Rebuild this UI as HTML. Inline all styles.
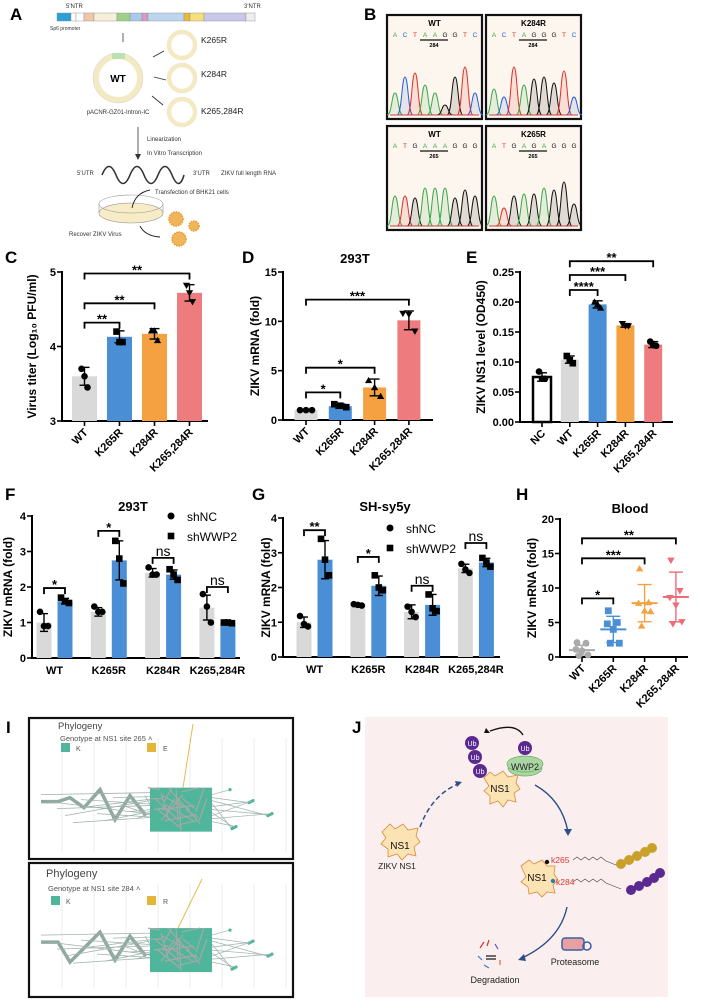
<!DOCTYPE html>
<html><head><meta charset="utf-8"><style>
html,body{margin:0;padding:0;background:#fff;}
svg{display:block;font-family:"Liberation Sans",Arial,sans-serif;}
</style></head><body>
<svg id="fig" width="702" height="1001" viewBox="0 0 702 1001">
<rect width="702" height="1001" fill="#fff"/>
<!-- Panel labels -->
<g font-weight="bold" font-size="17" fill="#000">
<text x="10" y="20">A</text>
<text x="364" y="20">B</text>
<text x="5" y="263">C</text>
<text x="242" y="263">D</text>
<text x="466" y="263">E</text>
<text x="5" y="500">F</text>
<text x="252" y="500">G</text>
<text x="516" y="500">H</text>
<text x="6" y="733">I</text>
<text x="352" y="733">J</text>
</g>
<!-- Panel A -->
<g id="panelA" font-size="6" fill="#333">
<text x="66" y="8">5'NTR</text>
<text x="244" y="8">3'NTR</text>
<g stroke="#888" stroke-width="0.4">
<rect x="57" y="13" width="14" height="8" fill="#2a9fd8"/>
<rect x="71" y="13" width="5" height="8" fill="#fff"/>
<rect x="76" y="13" width="8" height="8" fill="#fff"/>
<rect x="84" y="13" width="10" height="8" fill="#f2c7a8"/>
<rect x="94" y="13" width="23" height="8" fill="#f7efd6"/>
<rect x="117" y="13" width="13" height="8" fill="#9fd08a"/>
<rect x="130" y="13" width="12" height="8" fill="#a9c9e8"/>
<rect x="142" y="13" width="6" height="8" fill="#d79ac7"/>
<rect x="148" y="13" width="36" height="8" fill="#bcd6ee"/>
<rect x="184" y="13" width="6" height="8" fill="#e8b93c"/>
<rect x="190" y="13" width="14" height="8" fill="#f3e07a"/>
<rect x="204" y="13" width="42" height="8" fill="#c9c8ea"/>
<rect x="246" y="13" width="9" height="8" fill="#eee"/>
</g>
<text x="50" y="30" font-size="5">Sp6 promoter</text>
<line x1="123" y1="33" x2="123" y2="42" stroke="#333" stroke-width="0.8"/>
<circle cx="118" cy="78" r="22" fill="none" stroke="#f3e9c2" stroke-width="6"/>
<circle cx="118" cy="78" r="25" fill="none" stroke="#ccc" stroke-width="0.4"/>
<rect x="112" y="53" width="13" height="6" fill="#bde0b0"/>
<text x="118" y="82" font-size="10" font-weight="bold" text-anchor="middle" fill="#000">WT</text>
<text x="118" y="114" font-size="6" text-anchor="middle">pACNR-GZ01-Intron-IC</text>
<g stroke="#333" stroke-width="0.9"><line x1="153" y1="57" x2="164" y2="51"/><line x1="154" y1="77" x2="166" y2="80"/><line x1="152" y1="96" x2="163" y2="105"/></g>
<g fill="none" stroke="#f3e9c2" stroke-width="4.5">
<circle cx="182" cy="45" r="13"/><circle cx="182" cy="78" r="13"/><circle cx="182" cy="112" r="13"/></g>
<g font-size="8.5" fill="#222"><text x="201" y="43">K265R</text><text x="201" y="77">K284R</text><text x="201" y="114">K265,284R</text></g>
<line x1="138" y1="127" x2="138" y2="156" stroke="#333" stroke-width="0.8"/>
<path d="M135,154 L138,160 L141,154 Z" fill="#333"/>
<text x="147" y="141">Linearization</text>
<text x="147" y="155">In Vitro Transcription</text>
<path d="M102,175 Q109,158 116,175 T130,175 T144,175 T158,175 T172,175 T184,175" fill="none" stroke="#333" stroke-width="1.6"/>
<text x="77" y="175">5'UTR</text><text x="193" y="175">3'UTR</text><text x="221" y="175">ZIKV full length RNA</text>
<text x="155" y="194">Transfection of BHK21 cells</text>
<ellipse cx="131" cy="213" rx="32" ry="10" fill="#f7ecc6" stroke="#999" stroke-width="0.6"/>
<path d="M99,204 L99,213 M163,204 L163,213" stroke="#999" stroke-width="0.6"/>
<ellipse cx="131" cy="204" rx="32" ry="9" fill="none" stroke="#999" stroke-width="0.6"/>
<path d="M150,190 Q135,193 132,208" fill="none" stroke="#222" stroke-width="0.9"/>
<path d="M140,226 Q145,236 160,237" fill="none" stroke="#222" stroke-width="0.9"/>
<text x="69" y="236">Recover ZIKV Virus</text>
<g fill="#f0b55a" stroke="#e59b2c" stroke-dasharray="1.5,1" stroke-width="1.5">
<circle cx="176" cy="219" r="7"/><circle cx="194" cy="226" r="5"/><circle cx="179" cy="239" r="7"/></g>
</g>
<!-- Panel B -->
<g id="panelB"></g>
<!-- Charts -->
<g id="charts"></g>
<!-- Panel I -->
<g id="panelI"></g>
<!-- Panel J -->
<g id="panelJ">
<rect x="365" y="717" width="303" height="280" fill="#fbeeee"/>
<path d="M523,735 Q515,722 490,731" fill="none" stroke="#111" stroke-width="1.3"/>
<path d="M486,728 L484,733 L490,733 Z" fill="#111"/>
<path d="M508,768 a17,8 0 0 0 34,0 Z" fill="#a9d6a3" stroke="#6aaa66" stroke-width="0.7"/>
<ellipse cx="525" cy="764" rx="18" ry="8" fill="#a9d6a3" stroke="#6aaa66" stroke-width="0.7"/>
<text x="525" y="770" font-size="9" text-anchor="middle" fill="#222">WWP2</text>
<g fill="#5b2a90">
<circle cx="472" cy="743" r="7"/><circle cx="475" cy="757" r="7"/><circle cx="480" cy="771" r="7"/><circle cx="525" cy="748" r="7"/></g>
<g fill="#fff" font-size="7" text-anchor="middle"><text x="472" y="746">Ub</text><text x="475" y="760">Ub</text><text x="480" y="774">Ub</text><text x="525" y="751">Ub</text></g>
<g fill="#fbe3b3" stroke="#d98b3a" stroke-width="0.8">
<path d="M484,778 l6,-6 l5,4 l8,-5 l5,6 l10,-2 l-2,8 l4,6 l-6,4 l2,9 l-8,-2 l-5,7 l-5,-6 l-8,3 l0,-8 l-6,-5 l5,-5 Z"/>
<path d="M382,832 l8,-8 l5,5 l8,-5 l5,6 l10,-2 l-2,8 l4,6 l-6,5 l2,9 l-8,-2 l-6,6 l-5,-6 l-9,3 l0,-8 l-7,-5 l5,-6 Z"/>
<path d="M521,866 l8,-6 l5,4 l8,-4 l5,6 l8,0 l-1,8 l4,6 l-5,5 l2,8 l-8,-1 l-5,5 l-5,-5 l-8,2 l-1,-7 l-7,-5 l5,-5 Z"/>
</g>
<g font-size="10" fill="#111" text-anchor="middle"><text x="500" y="792">NS1</text><text x="400" y="849">NS1</text><text x="537" y="881">NS1</text></g>
<text x="397" y="869" font-size="8.5" text-anchor="middle" fill="#222">ZIKV NS1</text>
<path d="M420,827 Q432,795 458,784" fill="none" stroke="#2a4f8a" stroke-width="1.5" stroke-dasharray="5,3"/>
<path d="M455,781 L462,782 L457,787 Z" fill="#2a4f8a"/>
<path d="M535,785 Q562,800 568,832" fill="none" stroke="#2a4f8a" stroke-width="1.4"/>
<path d="M564,829 L568,836 L572,829 Z" fill="#2a4f8a"/>
<circle cx="547" cy="862" r="2.2" fill="#111"/><circle cx="553" cy="881" r="2.2" fill="#2b7bb5"/>
<text x="551" y="863" font-size="8.5" fill="#e0342b">k265</text>
<text x="556" y="885" font-size="8.5" fill="#e0342b">k284</text>
<path d="M573,860 l4,-3 l4,3 l4,-3 l4,3 l4,-3 l4,3 l4,-3 l5,4 l15,6 M573,882 l4,-3 l4,3 l4,-3 l4,3 l4,-3 l4,3 l4,-3 l5,4 l15,6" fill="none" stroke="#444" stroke-width="0.6"/>
<g fill="#c9a02a"><circle cx="621" cy="864" r="5"/><circle cx="629" cy="860" r="5"/><circle cx="637" cy="856" r="5"/><circle cx="645" cy="852" r="5"/><circle cx="652" cy="848" r="5"/></g>
<g fill="#5b2a90"><circle cx="631" cy="890" r="5"/><circle cx="639" cy="886" r="5"/><circle cx="647" cy="882" r="5"/><circle cx="654" cy="878" r="5"/><circle cx="660" cy="873" r="5"/></g>
<path d="M567,907 Q560,940 522,958" fill="none" stroke="#2a4f8a" stroke-width="1.4"/>
<path d="M524,954 L518,960 L526,961 Z" fill="#2a4f8a"/>
<g stroke-width="1.2"><line x1="480" y1="948" x2="484" y2="942" stroke="#e03030"/><line x1="487" y1="946" x2="489" y2="940" stroke="#e03030"/><line x1="495" y1="944" x2="498" y2="949" stroke="#6a4fb0"/><line x1="478" y1="956" x2="482" y2="960" stroke="#2a7fd0"/><line x1="486" y1="956" x2="496" y2="956" stroke="#111"/><line x1="486" y1="959" x2="496" y2="959" stroke="#111"/><line x1="500" y1="960" x2="500" y2="965" stroke="#e07030"/><line x1="484" y1="965" x2="489" y2="968" stroke="#2a7fd0"/></g>
<text x="495" y="983" font-size="9" text-anchor="middle" fill="#222">Degradation</text>
<g><rect x="562" y="938" width="22" height="12" rx="3" fill="#e8a0a0" stroke="#3a5fa8" stroke-width="1.5"/><circle cx="587" cy="946" r="4" fill="none" stroke="#3a5fa8" stroke-width="1.5"/></g>
<text x="575" y="965" font-size="9" text-anchor="middle" fill="#222">Proteasome</text>
</g>
<script>
const NS='http://www.w3.org/2000/svg';
function mk(tag,a,p){const e=document.createElementNS(NS,tag);for(const k in a)e.setAttribute(k,a[k]);p.appendChild(e);return e;}
function tx(x,y,s,a,p){const e=mk('text',Object.assign({x:x,y:y},a),p);e.textContent=s;return e;}

// ===== DATA =====
const catsC=['WT','K265R','K284R','K265,284R'];
const valsC=[3.6,4.13,4.17,4.72];
const sdC=[0.12,0.08,0.07,0.11];
const ptsC=[[3.7,3.6,3.45],[4.2,4.06,4.06],[4.21,4.21,4.08],[4.82,4.72,4.6]];
const ticksC=[3,4,5];
const bracketsC=[[0,1,4.32,'**'],[0,2,4.58,'**'],[0,3,4.98,'**']];

const catsD=['WT','K265R','K284R','K265,284R'];
const valsD=[1,1.4,3.3,10.1];
const sdD=[0.05,0.22,0.85,0.95];
const ptsD=[[1,1,1],[1.6,1.45,1.3],[4,3.3,2.4],[10.8,10.7,9.0]];
const ticksD=[0,5,10,15];
const bracketsD=[[0,1,2.8,'*'],[0,2,5.3,'*'],[0,3,12.2,'***']];

const catsE=['NC','WT','K265R','K284R','K265,284R'];
const valsE=[0.075,0.104,0.196,0.161,0.129];
const sdE=[0.007,0.006,0.006,0.003,0.005];
const ptsE=[[0.084,0.072,0.072],[0.11,0.103,0.098],[0.2,0.196,0.19],[0.164,0.16,0.16],[0.134,0.128,0.127]];
const ticksE=[0,0.05,0.1,0.15,0.2,0.25];
const bracketsE=[[1,2,0.22,'****'],[1,3,0.245,'***'],[1,4,0.268,'**']];

const catsF=['WT','K265R','K284R','K265,284R'];
const shncF=[1.0,1.3,2.4,1.42];
const shwwF=[1.6,2.75,2.35,1.0];
const shncSdF=[0.25,0.12,0.12,0.35];
const shwwSdF=[0.08,0.55,0.13,0.03];
const shncPtsF=[[1.3,0.9,0.9],[1.45,1.3,1.3],[2.55,2.35,2.35],[1.8,1.45,1.0]];
const shwwPtsF=[[1.7,1.6,1.55],[3.3,2.8,2.1],[2.5,2.35,2.2],[1.0,1.0,0.98]];
const ticksF=[0,1,2,3,4];
const bracketsF=[[0,1.97,'*'],[1,3.58,'*'],[2,2.82,'ns'],[3,2.0,'ns']];

const catsG=['WT','K265R','K284R','K265,284R'];
const shncG=[1.0,1.5,1.3,2.55];
const shwwG=[2.8,2.05,1.5,2.72];
const shncSdG=[0.15,0.02,0.2,0.12];
const shwwSdG=[0.55,0.28,0.3,0.12];
const shncPtsG=[[1.18,0.95,0.88],[1.52,1.5,1.48],[1.45,1.3,1.15],[2.68,2.52,2.42]];
const shwwPtsG=[[3.4,2.8,2.35],[2.35,2.0,1.92],[1.8,1.4,1.32],[2.85,2.72,2.6]];
const ticksG=[0,1,2,3,4];
const bracketsG=[[0,3.65,'**'],[1,2.88,'*'],[2,2.05,'ns'],[3,3.28,'ns']];

const catsH=['WT','K265R','K284R','K265,284R'];
const meanH=[1.0,4.0,7.8,8.7];
const sdH=[0.7,1.9,2.7,3.6];
const ptsH=[[2.1,2.0,1.1,0.9,0.3,0.2],[6.7,5.0,4.8,4.0,2.0,2.0],[12.8,7.9,7.8,6.7,6.6,4.5],[14.0,9.6,8.6,7.5,5.1,4.8]];
const ticksH=[0,5,10,15,20];
const bracketsH=[[0,1,8.5,'*'],[0,2,14.3,'***'],[0,3,17.2,'**']];

// ===== HELPERS =====
const root=document.getElementById('charts');
function marker(p,shape,x,y,r,fill,stroke){
  let e;
  if(shape==='c'){e=mk('circle',{cx:x,cy:y,r:r,fill:fill,stroke:stroke||'none'},p);}
  else if(shape==='s'){e=mk('rect',{x:x-r,y:y-r,width:2*r,height:2*r,fill:fill},p);}
  else if(shape==='t'){e=mk('path',{d:`M${x},${y-r*1.1} L${x+r*1.1},${y+r*0.8} L${x-r*1.1},${y+r*0.8} Z`,fill:fill},p);}
  else {e=mk('path',{d:`M${x},${y+r*1.1} L${x+r*1.1},${y-r*0.8} L${x-r*1.1},${y-r*0.8} Z`,fill:fill},p);}
  return e;
}
function axes(g,o){
  const yS=v=>o.yBot-(v-o.vmin)/(o.vmax-o.vmin)*(o.yBot-o.yTop);
  const ya=mk('line',{x1:o.ax,y1:o.yTop-1,x2:o.ax,y2:o.yBot+1,stroke:'#000','stroke-width':2},g);
  
  
  const xa=mk('line',{x1:o.ax-1,y1:o.yBot,x2:o.axEnd,y2:o.yBot,stroke:'#000','stroke-width':2},g);
  
  
  o.ticks.forEach(t=>{
    const y=yS(t);
    mk('line',{x1:o.ax-5,y1:y,x2:o.ax,y2:y,stroke:'#000','stroke-width':1.6},g);
    const tl=tx(o.ax-6,y+4,o.fmt?o.fmt(t):String(t),{'font-size':11,'font-weight':'bold','text-anchor':'end'},g);
    
    
  });
  const yt=tx(0,0,o.ytitle,{'font-size':12,'font-weight':'bold','text-anchor':'middle',transform:`translate(${o.ytx},${(o.yTop+o.yBot)/2}) rotate(-90)`},g);
  
  
  return yS;
}
function errbar(g,x,y1,y2,cap,col){
  mk('line',{x1:x,y1:y1,x2:x,y2:y2,stroke:col,'stroke-width':1.4},g);
  mk('line',{x1:x-cap,y1:y1,x2:x+cap,y2:y1,stroke:col,'stroke-width':1.4},g);
  mk('line',{x1:x-cap,y1:y2,x2:x+cap,y2:y2,stroke:col,'stroke-width':1.4},g);
}
function bracket(g,x1,x2,y,label){
  const b=mk('path',{d:`M${x1},${y+6} L${x1},${y} L${x2},${y} L${x2},${y+6}`,fill:'none',stroke:'#000','stroke-width':1.8},g);
  
  
  const t=tx((x1+x2)/2,label==='ns'?y-2:y+1,label,{'font-size':label==='ns'?14:13,'text-anchor':'middle','font-weight':label==='ns'?'normal':'bold'},g);
  
  
}
function rotCats(g,cats,cx,yBot){
  cats.forEach((c,i)=>{
    const t=tx(0,0,c,{'font-size':11,'font-weight':'bold','text-anchor':'end',transform:`translate(${cx(i)+4},${yBot+12}) rotate(-45)`},g);
    
    
    mk('line',{x1:cx(i),y1:yBot,x2:cx(i),y2:yBot+5,stroke:'#000','stroke-width':1.6},g);
  });
}
const off3=[-5,0,5];

function singleBar(o,name){
  const g=mk('g',{},root);
  
  
  const yS=axes(g,o);
  const cx=i=>o.c0+i*o.step;
  o.vals.forEach((v,i)=>{
    const r=mk('rect',{x:cx(i)-o.bw/2,y:yS(v),width:o.bw,height:o.yBot-yS(v),fill:o.colors[i],stroke:o.strokes?o.strokes[i]:'none','stroke-width':2.5},g);
    
    
    errbar(g,cx(i),yS(v+o.sds[i]),yS(v-o.sds[i]),5,'#000');
    o.pts[i].forEach((p,j)=>{
      const m=marker(g,o.shapes[i],cx(i)+(o.spread?o.spread[j]:off3[j]*0.6),yS(p),3.3,'#000');
      
      
    });
  });
  rotCats(g,o.cats,cx,o.yBot);
  o.brackets.forEach(b=>bracket(g,cx(b[0]),cx(b[1]),yS(b[2]),b[3]));
  return g;
}

singleBar({ax:62,axEnd:208,yTop:272,yBot:421,vmin:3,vmax:5,ticks:ticksC,ytitle:'Virus titer (Log\u2081\u2080 PFU/ml)',ytx:36,
  c0:84.5,step:35,bw:25,vals:valsC,sds:sdC,pts:ptsC,cats:catsC,colors:['#d9d9d9','#4a8fd6','#f5a142','#ee7b7e'],shapes:['c','s','t','v'],brackets:bracketsC},'chart-c-virus-titer');

singleBar({ax:283,axEnd:433,yTop:272,yBot:420,vmin:0,vmax:15,ticks:ticksD,ytitle:'ZIKV mRNA (fold)',ytx:259,
  c0:306,step:34.3,bw:23,vals:valsD,sds:sdD,pts:ptsD,cats:catsD,colors:['#d9d9d9','#4a8fd6','#f5a142','#ee7b7e'],shapes:['c','s','t','v'],spread:[-6,0,6],brackets:bracketsD},'chart-d-293t');
const tD=tx(355,263,'293T',{'font-size':13,'font-weight':'bold','text-anchor':'middle'},root);



singleBar({ax:520,axEnd:673,yTop:272,yBot:422,vmin:0,vmax:0.25,ticks:ticksE,fmt:t=>t.toFixed(2),ytitle:'ZIKV NS1 level (OD450)',ytx:485,
  c0:542,step:27.8,bw:18,vals:valsE,sds:sdE,pts:ptsE,cats:catsE,colors:['#fff','#d9d9d9','#4a8fd6','#f5a142','#ee7b7e'],strokes:['#000','none','none','none','none'],shapes:['c','s','t','v','c'],brackets:bracketsE},'chart-e-ns1-level');

function groupedBar(o,name){
  const g=mk('g',{},root);
  
  
  const yS=axes(g,o);
  const gc=i=>o.c0+i*o.step;
  o.cats.forEach((c,i)=>{
    [[o.a,o.asd,o.apts,-10.5,'#d9d9d9','c'],[o.b,o.bsd,o.bpts,10.5,'#4a8fd6','s']].forEach(s=>{
      const x=gc(i)+s[3], v=s[0][i];
      const r=mk('rect',{x:x-7.5,y:yS(v),width:15,height:o.yBot-yS(v),fill:s[4]},g);
      
      
      errbar(g,x,yS(v+s[1][i]),yS(v-s[1][i]),4,'#000');
      s[2][i].forEach((p,j)=>{
        const m=marker(g,s[5],x+off3[j]*0.8,yS(p),3.3,'#000');
        
        
      });
    });
    const t=tx(gc(i),o.yBot+16,c,{'font-size':11,'font-weight':'bold','text-anchor':'middle'},g);
    
    
  });
  o.brackets.forEach(b=>bracket(g,gc(b[0])-10.5,gc(b[0])+10.5,yS(b[1]),b[2]));
  const l1=marker(g,'c',o.lx,o.ly,3.5,'#000');
  
  
  const lt1=tx(o.lx+16,o.ly+5,'shNC',{'font-size':12},g);
  
  
  const l2=marker(g,'s',o.lx,o.ly+20,3.3,'#000');
  
  
  const lt2=tx(o.lx+16,o.ly+25,'shWWP2',{'font-size':12},g);
  
  
  const tt=tx(o.tx,o.ty,o.title,{'font-size':13,'font-weight':'bold','text-anchor':'middle'},g);
  
  
}
groupedBar({ax:32,axEnd:240,yTop:516,yBot:658,vmin:0,vmax:4,ticks:ticksF,ytitle:'ZIKV mRNA (fold)',ytx:12,
  c0:54.5,step:54.3,cats:catsF,a:shncF,asd:shncSdF,apts:shncPtsF,b:shwwF,bsd:shwwSdF,bpts:shwwPtsF,brackets:bracketsF,lx:171,ly:516,title:'293T',tx:133,ty:511},'chart-f-293t-knockdown');
groupedBar({ax:283,axEnd:500,yTop:518,yBot:657,vmin:0,vmax:4,ticks:ticksG,ytitle:'ZIKV mRNA (fold)',ytx:270,
  c0:314.5,step:53.8,cats:catsG,a:shncG,asd:shncSdG,apts:shncPtsG,b:shwwG,bsd:shwwSdG,bpts:shwwPtsG,brackets:bracketsG,lx:390,ly:528,title:'SH-sy5y',tx:385,ty:511},'chart-g-shsy5y-knockdown');

(function(){
  const o={ax:560,axEnd:688,yTop:519,yBot:657,vmin:0,vmax:20,ticks:ticksH,ytitle:'ZIKV mRNA (fold)',ytx:536};
  const g=mk('g',{},root);
  
  
  const yS=axes(g,o);
  const cx=i=>582+i*31.3;
  const cols=['#aaaaaa','#4a8fd6','#f5a142','#ee6b78'];
  const sh=['c','s','t','v'];
  const sp=[-5,4,-6,0,6,-3];
  meanH.forEach((m,i)=>{
    const ml=mk('line',{x1:cx(i)-13,y1:yS(m),x2:cx(i)+13,y2:yS(m),stroke:cols[i],'stroke-width':2},g);
    
    
    errbar(g,cx(i),yS(m+sdH[i]),yS(m-sdH[i]),7,cols[i]);
    ptsH[i].forEach((p,j)=>{
      const e=marker(g,sh[i],cx(i)+sp[j],yS(p),3.4,cols[i]);
      
      
    });
  });
  rotCats(g,catsH,cx,o.yBot);
  bracketsH.forEach(b=>bracket(g,cx(b[0]),cx(b[1]),yS(b[2]),b[3]));
  const t=tx(630,513,'Blood',{'font-size':13,'font-weight':'bold','text-anchor':'middle'},g);
  
  
})();

// ===== Panel B sequencing traces =====
(function(){
  const B=document.getElementById('panelB');
  const cmap={A:'#3aa84a',C:'#2a5fd0',T:'#e0302a',G:'#111'};
  const boxes=[
    {x:387,y:15,t:'WT',seq:'ACTAAGGTC',num:'284',h:[22,38,42,30,22,10,38,48,22]},
    {x:486,y:15,t:'K284R',seq:'ACTAGGGTC',num:'284',h:[26,18,48,30,36,38,32,44,18]},
    {x:387,y:126,t:'WT',seq:'ATGAAAGGG',num:'265',h:[30,30,28,38,38,38,28,36,30]},
    {x:486,y:126,t:'K265R',seq:'ATGAGAGGG',num:'265',h:[30,18,30,32,32,38,36,44,22]}];
  boxes.forEach(b=>{
    const g=mk('g',{},B);
    
    
    mk('rect',{x:b.x,y:b.y,width:95,height:104,fill:'#fdf6ee',stroke:'#111','stroke-width':2.2},g);
    tx(b.x+47.5,b.y+11,b.t,{'font-size':8,'font-weight':'bold','text-anchor':'middle'},g);
    for(let i=0;i<9;i++){
      const lx=b.x+8+i*10;
      tx(lx,b.y+22,b.seq[i],{'font-size':6.5,fill:cmap[b.seq[i]],'text-anchor':'middle'},g);
      const base=b.y+100, w=3.4, h=b.h[i];
      const col=cmap[b.seq[i]];
      const d=`M${lx-8},${base} C${lx-3},${base} ${lx-w},${base-h} ${lx},${base-h} C${lx+w},${base-h} ${lx+3},${base} ${lx+8},${base}`;
      mk('path',{d:d,fill:col,'fill-opacity':0.12,stroke:col,'stroke-width':1},g);
    }
    mk('line',{x1:b.x+33,y1:b.y+25,x2:b.x+61,y2:b.y+25,stroke:'#111','stroke-width':1.2},g);
    tx(b.x+47,b.y+32,b.num,{'font-size':5.5,'font-weight':'bold','text-anchor':'middle'},g);
    mk('line',{x1:b.x+3,y1:b.y+100,x2:b.x+92,y2:b.y+100,stroke:'#d04040','stroke-width':1},g);
  });
})();

// ===== Panel I phylogeny =====
(function(){
  const P=document.getElementById('panelI');
  const boxes=[{y:718,h:141,site:'265',alt:'E',big:false},{y:863,h:134,site:'284',alt:'R',big:true}];
  boxes.forEach(b=>{
    const g=mk('g',{},P);
    
    
    mk('rect',{x:29,y:b.y,width:264,height:b.h,fill:'#fff',stroke:'#111','stroke-width':2.2},g);
    for(let k=0;k<8;k++) mk('line',{x1:62+k*32,y1:b.y+20,x2:62+k*32,y2:b.y+b.h-8,stroke:'#e4e4e4','stroke-width':0.7},g);
    tx(b.big?46:58,b.y+(b.big?14:11),'Phylogeny',{'font-size':b.big?11:9.5,fill:'#444'},g);
    tx(b.big?48:60,b.y+(b.big?28:23),'Genotype at NS1 site '+b.site+' \u02c4',{'font-size':7.5,fill:'#555'},g);
    const ly=b.y+(b.big?38:30);
    mk('rect',{x:b.big?51:61,y:ly-5,width:9,height:9,fill:'#4fb59b'},g);
    tx(b.big?66:76,ly+3,'K',{'font-size':7,fill:'#555'},g);
    mk('rect',{x:147,y:ly-5,width:9,height:9,fill:'#e3b53a'},g);
    tx(163,ly+3,b.alt,{'font-size':7,fill:'#555'},g);
    const cy=b.y+b.h*0.65;
    mk('polyline',{points:`41,${cy-8} 58,${cy-8} 70,${cy+(b.big?12:-12)} 84,${cy-2} 100,${cy+(b.big?-18:-20)} 115,${cy+10} 130,${cy-14} 146,${cy+6}`,fill:'none',stroke:'#8fa9a0','stroke-width':3.5},g);
    for(let k=0;k<14;k++){
      mk('line',{x1:41+k*8,y1:cy+((k*37)%30)-15,x2:150+((k*13)%40),y2:cy+((k*23)%34)-17,stroke:'#9fb3ad','stroke-width':0.8},g);
    }
    mk('rect',{x:150,y:cy-22,width:62,height:44,fill:'#4fb59b'},g);
    for(let k=0;k<22;k++){
      mk('line',{x1:148+(k*7)%60,y1:cy-22+(k*11)%44,x2:160+(k*17)%50,y2:cy-20+(k*29)%42,stroke:'#a8a8a8','stroke-width':1.2},g);
    }
    for(let k=0;k<10;k++){
      mk('line',{x1:212,y1:cy-15+k*3,x2:230+(k*19)%55,y2:cy-20+(k*13)%40,stroke:'#9fb3ad','stroke-width':0.7},g);
      mk('circle',{cx:230+(k*19)%55,cy:cy-20+(k*13)%40,r:1.6,fill:'#4fb59b'},g);
    }
    mk('line',{x1:b.big?178:183,y1:cy-22,x2:b.big?202:193,y2:b.y+(b.big?16:6),stroke:'#e3b53a','stroke-width':0.9},g);
  });
})();
</script>
</svg>
</body></html>
